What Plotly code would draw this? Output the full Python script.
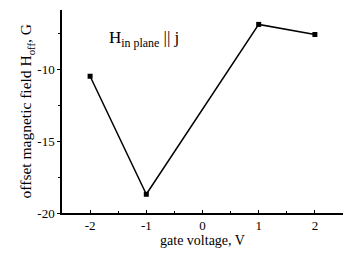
import plotly.graph_objects as go

gate_voltage = [-2, -1, 1, 2]
offset_field = [-10.5, -18.7, -6.9, -7.6]
x_ticks = [-2, -1, 0, 1, 2]
x_ticklabels = ["-2", "-1", "0", "1", "2"]
y_ticks = [-20, -15, -10]
y_ticklabels = ["-20", "-15", "-10"]

font_family = "Liberation Serif, Times New Roman, serif"

fig = go.Figure()
fig.add_trace(go.Scatter(
    x=gate_voltage, y=offset_field, mode="lines+markers",
    line=dict(color="black", width=1.5),
    marker=dict(symbol="square", size=5, color="black"),
    showlegend=False,
))

fig.update_layout(
    width=362, height=254,
    margin=dict(l=62, r=19, t=10, b=41),
    paper_bgcolor="white", plot_bgcolor="white",
    font=dict(family=font_family, size=13, color="black"),
    xaxis=dict(
        range=[-2.5, 2.5], tickvals=x_ticks, ticktext=x_ticklabels,
        showline=True, linecolor="black", linewidth=1.5,
        ticks="inside", ticklen=3, tickcolor="black",
        minor=dict(dtick=0.5, ticks="inside", ticklen=2, tickcolor="black"),
        showgrid=False, zeroline=False,
        title=dict(text="gate voltage, V", standoff=0, font=dict(size=14)),
    ),
    yaxis=dict(
        range=[-20, -5.9], tickvals=y_ticks, ticktext=y_ticklabels,
        showline=True, linecolor="black", linewidth=1.5,
        ticks="outside", ticklen=3, tickcolor="black",
        minor=dict(tickvals=[-17.5, -12.5, -7.5], ticks="outside", ticklen=2, tickcolor="black"),
        showgrid=False, zeroline=False,
    ),
    annotations=[
        dict(
            text="H<sub>in plane</sub> || j", x=0.16, y=0.855, xref="paper", yref="paper",
            xanchor="left", yanchor="middle", showarrow=False,
            font=dict(family=font_family, size=17, color="black"),
        ),
        dict(
            text="offset magnetic field H<sub>off</sub>, G", textangle=-90,
            x=-0.125, y=0.5, xref="paper", yref="paper",
            xanchor="center", yanchor="middle", showarrow=False,
            font=dict(family=font_family, size=15.5, color="black"),
        ),
    ],
)

fig.write_html("out.html")
